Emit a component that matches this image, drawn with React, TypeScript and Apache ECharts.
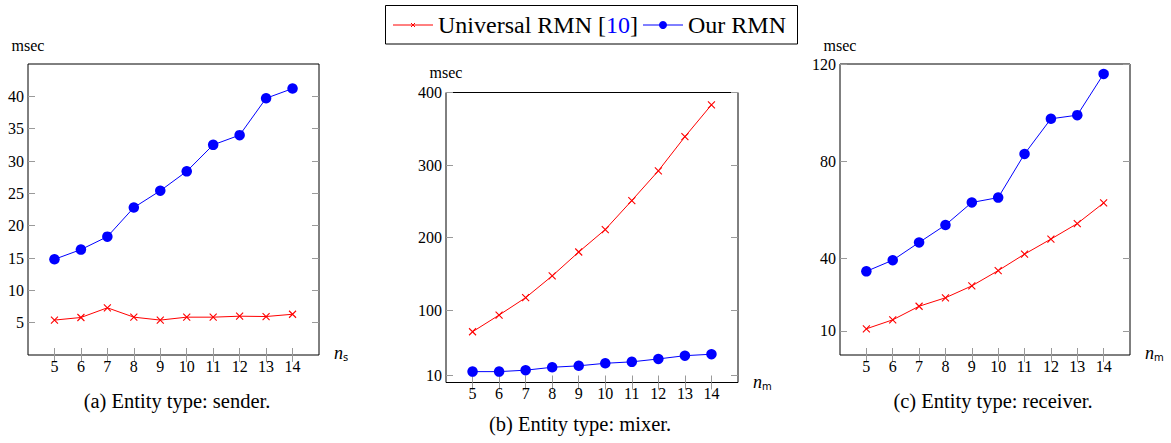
import React, { useEffect, useRef } from "react";
import * as echarts from "echarts";

const xValues = [5, 6, 7, 8, 9, 10, 11, 12, 13, 14];

const senderUniversal = [5.4, 5.8, 7.3, 5.85, 5.4, 5.85, 5.85, 6.0, 5.95, 6.3];
const senderOur = [14.8, 16.3, 18.3, 22.8, 25.4, 28.4, 32.5, 34.0, 39.7, 41.2];

const mixerUniversal = [70, 93, 117, 147, 180, 211, 251, 292, 339, 383];
const mixerOur = [15, 15, 17, 21, 23, 26.5, 28.5, 32.5, 37, 39];

const receiverUniversal = [10.8, 14.5, 20.1, 23.6, 28.5, 34.8, 41.6, 47.8, 54.2, 62.7];
const receiverOur = [34.5, 39.1, 46.4, 53.6, 62.9, 64.9, 82.9, 97.4, 98.9, 115.9];

const yTicksSender = [5, 10, 15, 20, 25, 30, 35, 40];
const yTicksMixer = [10, 100, 200, 300, 400];
const yTicksReceiver = [10, 40, 80, 120];

const seriesNames = ["Universal RMN [10]", "Our RMN"];
const captions = [
  "(a) Entity type: sender.",
  "(b) Entity type: mixer.",
  "(c) Entity type: receiver.",
];

const FONT = "'Liberation Serif', 'Times New Roman', serif";
const RED = "#ff0000";
const BLUE = "#0000ff";
const TICK = "#9a9a9a";
const XMARK = "path://M0,0L10,10M10,0L0,10";

export default function App() {
  const ref = useRef<HTMLDivElement>(null);

  useEffect(() => {
    document.body.style.margin = "0";
    const chart = echarts.init(ref.current!, null, { renderer: "svg" });

    const grids = [
      { left: 28, top: 64, width: 291, height: 291 },
      { left: 446, top: 92.5, width: 292, height: 290 },
      { left: 840, top: 64, width: 290, height: 291 },
    ];
    const yRanges = [
      { min: 0, max: 45, ticks: yTicksSender },
      { min: 0, max: 400, ticks: yTicksMixer },
      { min: 0, max: 120, ticks: yTicksReceiver },
    ];
    const data = [
      [senderUniversal, senderOur],
      [mixerUniversal, mixerOur],
      [receiverUniversal, receiverOur],
    ];

    const xAxis: any[] = [];
    const yAxis: any[] = [];
    const series: any[] = [];

    grids.forEach((g, i) => {
      const tickBase = {
        show: true,
        inside: true,
        length: 7,
        lineStyle: { color: TICK, width: 1 },
      };
      xAxis.push({
        type: "value",
        gridIndex: i,
        position: "bottom",
        min: 4,
        max: 15,
        axisLine: { show: false },
        splitLine: { show: false },
        axisTick: { ...tickBase, customValues: xValues },
        axisLabel: {
          customValues: xValues,
          fontFamily: FONT,
          fontSize: 16,
          color: "#000",
          margin: 3,
        },
      });
      xAxis.push({
        type: "value",
        gridIndex: i,
        position: "top",
        min: 4,
        max: 15,
        axisLine: { show: false },
        splitLine: { show: false },
        axisTick: { ...tickBase, customValues: xValues },
        axisLabel: { show: false },
      });
      const yr = yRanges[i];
      yAxis.push({
        type: "value",
        gridIndex: i,
        position: "left",
        min: yr.min,
        max: yr.max,
        axisLine: { show: false },
        splitLine: { show: false },
        axisTick: { ...tickBase, customValues: yr.ticks },
        axisLabel: {
          customValues: yr.ticks,
          fontFamily: FONT,
          fontSize: 16,
          color: "#000",
          margin: 4,
        },
      });
      yAxis.push({
        type: "value",
        gridIndex: i,
        position: "right",
        min: yr.min,
        max: yr.max,
        axisLine: { show: false },
        splitLine: { show: false },
        axisTick: { ...tickBase, customValues: yr.ticks },
        axisLabel: { show: false },
      });

      series.push({
        type: "line",
        name: seriesNames[0],
        xAxisIndex: i * 2,
        yAxisIndex: i * 2,
        data: xValues.map((x, k) => [x, data[i][0][k]]),
        symbol: XMARK,
        symbolSize: 7,
        showSymbol: true,
        lineStyle: { color: RED, width: 1 },
        itemStyle: { color: RED, borderColor: RED, borderWidth: 1.1 },
        z: 3,
      });
      series.push({
        type: "line",
        name: seriesNames[1],
        xAxisIndex: i * 2,
        yAxisIndex: i * 2,
        data: xValues.map((x, k) => [x, data[i][1][k]]),
        symbol: "circle",
        symbolSize: 10.5,
        showSymbol: true,
        lineStyle: { color: BLUE, width: 1 },
        itemStyle: { color: BLUE, borderWidth: 0 },
        z: 4,
      });
    });

    const msecPos = [
      { x: 28, y: 45 },
      { x: 446, y: 72 },
      { x: 840, y: 45 },
    ];
    const nPos = [
      { x: 334, y: 353, sub: "s" },
      { x: 753, y: 382, sub: "m" },
      { x: 1145, y: 353, sub: "m" },
    ];
    const capPos = [
      { x: 177, y: 401 },
      { x: 580, y: 424 },
      { x: 993, y: 401 },
    ];

    const graphic: any[] = [];
    msecPos.forEach((p) => {
      graphic.push({
        type: "text",
        x: p.x,
        y: p.y,
        style: {
          text: "msec",
          fontFamily: FONT,
          fontSize: 16,
          fill: "#000",
          textAlign: "center",
          textVerticalAlign: "middle",
        },
      });
    });
    nPos.forEach((p) => {
      graphic.push({
        type: "text",
        x: p.x,
        y: p.y,
        style: {
          text: `{n|n}{s|${p.sub}}`,
          rich: {
            n: { fontFamily: FONT, fontStyle: "italic", fontSize: 18, fill: "#000" },
            s: {
              fontFamily: "DejaVu Sans",
              fontSize: 10,
              fill: "#000",
              padding: [8, 0, 0, 0],
            },
          },
          textVerticalAlign: "middle",
        },
      });
    });
    captions.forEach((c, i) => {
      graphic.push({
        type: "text",
        x: capPos[i].x,
        y: capPos[i].y,
        style: {
          text: c,
          fontFamily: FONT,
          fontSize: 20.5,
          fill: "#000",
          textAlign: "center",
          textVerticalAlign: "middle",
        },
      });
    });

    // legend box
    graphic.push({
      type: "rect",
      shape: { x: 385.5, y: 5.5, width: 412, height: 38.5 },
      style: { fill: "#fff", stroke: "#000", lineWidth: 1 },
    });
    graphic.push({
      type: "line",
      shape: { x1: 393, y1: 25, x2: 433, y2: 25 },
      style: { stroke: RED, lineWidth: 1 },
    });
    graphic.push({
      type: "line",
      shape: { x1: 411, y1: 23, x2: 415, y2: 27 },
      style: { stroke: RED, lineWidth: 1 },
    });
    graphic.push({
      type: "line",
      shape: { x1: 415, y1: 23, x2: 411, y2: 27 },
      style: { stroke: RED, lineWidth: 1 },
    });
    graphic.push({
      type: "text",
      x: 438,
      y: 25,
      style: {
        text: "{a|Universal RMN [}{b|10}{a|]}",
        rich: {
          a: { fontFamily: FONT, fontSize: 24, fill: "#000" },
          b: { fontFamily: FONT, fontSize: 24, fill: BLUE },
        },
        textVerticalAlign: "middle",
      },
    });
    graphic.push({
      type: "line",
      shape: { x1: 643, y1: 25, x2: 683, y2: 25 },
      style: { stroke: BLUE, lineWidth: 1 },
    });
    graphic.push({
      type: "circle",
      shape: { cx: 663, cy: 25, r: 4 },
      style: { fill: BLUE },
    });
    graphic.push({
      type: "text",
      x: 688,
      y: 25,
      style: {
        text: "Our RMN",
        fontFamily: FONT,
        fontSize: 24,
        fill: "#000",
        textVerticalAlign: "middle",
      },
    });

    chart.setOption({
      animation: false,
      backgroundColor: "#fff",
      grid: grids.map((g) => ({
        ...g,
        show: true,
        borderColor: "#000",
        borderWidth: 1,
        backgroundColor: "transparent",
        containLabel: false,
      })),
      xAxis,
      yAxis,
      series,
      graphic,
      legend: { show: false },
      tooltip: { show: false },
    });

    return () => chart.dispose();
  }, []);

  return <div ref={ref} style={{ width: 1171, height: 443 }} />;
}
